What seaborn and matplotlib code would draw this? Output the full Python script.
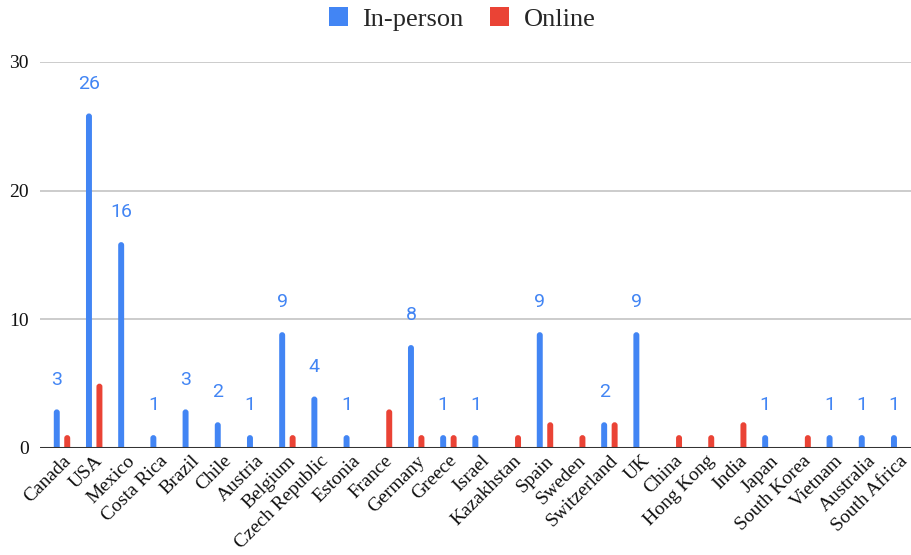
import matplotlib
matplotlib.use("Agg")
import matplotlib.pyplot as plt
from matplotlib.patches import FancyBboxPatch, Patch
import seaborn as sns
import pandas as pd

countries = ["Canada", "USA", "Mexico", "Costa Rica", "Brazil", "Chile", "Austria",
             "Belgium", "Czech Republic", "Estonia", "France", "Germany", "Greece",
             "Israel", "Kazakhstan", "Spain", "Sweden", "Switzerland", "UK", "China",
             "Hong Kong", "India", "Japan", "South Korea", "Vietnam", "Australia",
             "South Africa"]
in_person = [3, 26, 16, 1, 3, 2, 1, 9, 4, 1, 0, 8, 1, 1, 0, 9, 0, 2, 9, 0, 0, 0, 1, 0, 1, 1, 1]
online = [1, 5, 0, 0, 0, 0, 0, 1, 0, 0, 3, 1, 1, 0, 1, 2, 1, 2, 0, 1, 1, 2, 0, 1, 0, 0, 0]
modes = ["In-person", "Online"]
colors = {"In-person": "#4285F4", "Online": "#EA4335"}

df = pd.DataFrame({
    "country": countries * 2,
    "mode": ["In-person"] * len(countries) + ["Online"] * len(countries),
    "count": in_person + online,
})

sns.set_theme(style="white")
plt.rcParams["font.family"] = ["Liberation Serif", "DejaVu Serif"]

fig = plt.figure(figsize=(9.12, 5.55), dpi=100)
ax = fig.add_axes([40 / 912, 1 - 448 / 555, 872 / 912, (448 - 62) / 555])

sns.barplot(data=df, x="country", y="count", hue="mode", hue_order=modes,
            palette=colors, order=countries, width=0.65, gap=0.43,
            saturation=1, ax=ax, legend=False)

ax.set_ylim(0, 30)
ax.set_xlim((40 - 62) / 32.2, (912 - 62) / 32.2)
ax.set_yticks([0, 10, 20, 30])
ax.grid(axis="y", color="#cccccc", linewidth=1.4, zorder=0)
ax.set_axisbelow(True)
for s in ax.spines.values():
    s.set_visible(False)
ax.axhline(0, color="#333333", linewidth=2.2, zorder=5)
ax.set_xlabel("")
ax.set_ylabel("")
ax.tick_params(axis="both", length=0, labelsize=14, labelcolor="#111111")
ax.tick_params(axis="y", pad=8)
ax.tick_params(axis="x", pad=3)
plt.setp(ax.get_xticklabels(), rotation=45, ha="right", rotation_mode="anchor")

# value labels above the in-person bars
labels = [str(v) if v > 0 else "" for v in in_person]
ax.bar_label(ax.containers[0], labels=labels, padding=15, color="#4285F4",
             fontsize=14, family="Roboto")

# swap the square bars for top-rounded ones (the rounded bottoms fall below 0 and are clipped)
fig.canvas.draw()
px_x = ax.transData.transform((1, 0))[0] - ax.transData.transform((0, 0))[0]
px_y = ax.transData.transform((0, 1))[1] - ax.transData.transform((0, 0))[1]
aspect = px_x / px_y
for container in ax.containers:
    for bar in container:
        h = bar.get_height()
        bar.set_visible(False)
        if h <= 0:
            continue
        x0, w = bar.get_x(), bar.get_width()
        r = w / 2
        rounded = FancyBboxPatch((x0, -r * aspect), w, h + r * aspect,
                                 boxstyle=f"round,pad=0,rounding_size={r}",
                                 mutation_aspect=aspect,
                                 facecolor=bar.get_facecolor(), edgecolor="none",
                                 zorder=3)
        ax.add_patch(rounded)

handles = [Patch(facecolor=colors[m], edgecolor="none", label=m) for m in modes]
fig.legend(handles=handles, loc="center", bbox_to_anchor=(462 / 912, 1 - 19 / 555),
           ncol=2, frameon=False, fontsize=19, handlelength=0.72,
           handleheight=0.72, handletextpad=0.55, columnspacing=1.0)

fig.savefig("out.png", dpi=100)
